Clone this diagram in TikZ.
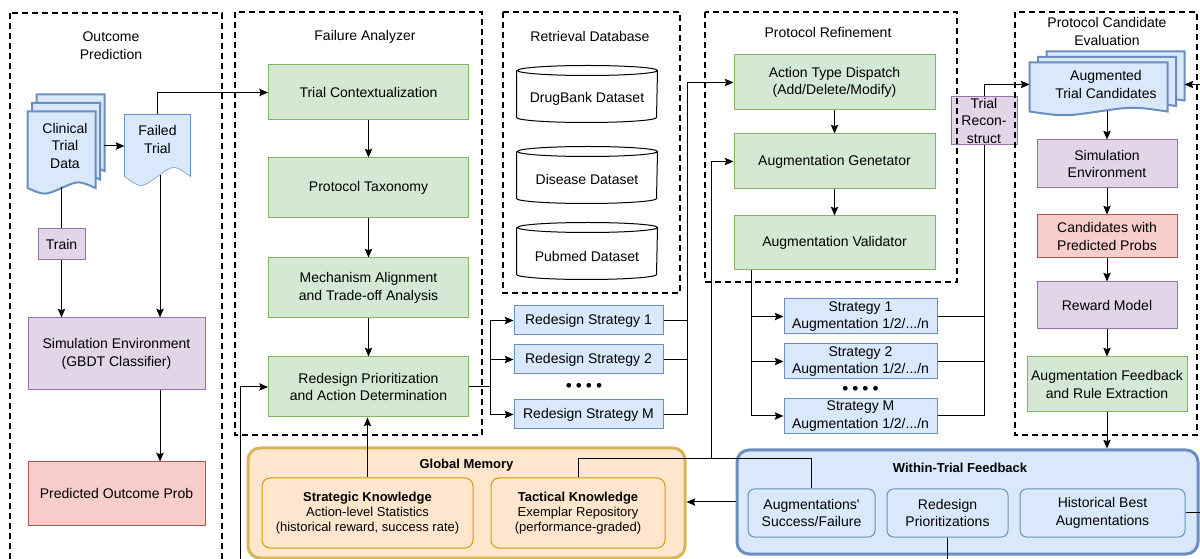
\documentclass[tikz,border=0pt]{standalone}
\usepackage{fontspec}
\setmainfont{Liberation Sans}
\usepackage{tikz}
\usetikzlibrary{arrows.meta,calc,backgrounds}

\definecolor{grnfill}{HTML}{D5E8D4}
\definecolor{grnline}{HTML}{82B366}
\definecolor{purfill}{HTML}{E1D5E7}
\definecolor{purline}{HTML}{9673A6}
\definecolor{redfill}{HTML}{F8CECC}
\definecolor{redline}{HTML}{B85450}
\definecolor{blufill}{HTML}{DAE8FC}
\definecolor{bluline}{HTML}{6C8EBF}
\definecolor{orgfill}{HTML}{FFE6CC}
\definecolor{orgline}{HTML}{D79B00}
\definecolor{gldline}{HTML}{D6B656}

\newcommand{\docpath}[2]{(#1.north west) -- (#1.north east) -- ($(#1.south east)+(0,#2)$)
  .. controls ($(#1.south)!0.5!(#1.south east)$) .. ($(#1.south)+(0,#2)$)
  .. controls ($(#1.south)!0.5!(#1.south west)+(0,2*#2)$) .. ($(#1.south west)+(0,#2)$) -- cycle}
\newcommand{\dbpath}[1]{([yshift=3.75pt]#1.north west) -- ([yshift=3.75pt]#1.south west)
  arc[start angle=180,end angle=360,x radius=52.5pt,y radius=3.75pt] -- ([yshift=3.75pt]#1.north east)
  arc[start angle=0,end angle=180,x radius=52.5pt,y radius=3.75pt]
  arc[start angle=180,end angle=360,x radius=52.5pt,y radius=3.75pt]}
\newcommand{\dotrow}{{\fontsize{13}{13}\selectfont\textbullet\hspace{3pt}\textbullet\hspace{3pt}\textbullet\hspace{3pt}\textbullet}}

\begin{document}
\begin{tikzpicture}[x=0.75pt,y=-0.75pt,line width=0.75pt,
  font=\fontsize{10.5}{13.2}\selectfont,>={Stealth[length=6.5pt,width=5.5pt,inset=1pt]},
  every node/.style={align=center,inner sep=0pt},
  wh/.style 2 args={minimum width=#1*0.75pt,minimum height=#2*0.75pt},
  grpbox/.style={draw,line width=1.5pt,dash pattern=on 4.5pt off 3pt},
  grnbox/.style={draw=grnline,fill=grnfill},
  purbox/.style={draw=purline,fill=purfill},
  redbox/.style={draw=redline,fill=redfill},
  blubox/.style={draw=bluline,fill=blufill},
  docbox/.style={draw=bluline,fill=blufill},
  memfont/.style={font=\fontsize{9.75}{11.3}\selectfont},
  memtitle/.style={font=\bfseries\fontsize{9.75}{11.3}\selectfont},
  gmbox/.style={draw=gldline,fill=orgfill,line width=2.25pt,rounded corners=9pt},
  membox/.style={draw=orgline,fill=orgfill,rounded corners=6pt,memfont},
  wtfbox/.style={draw=bluline,fill=blufill,line width=2.25pt,rounded corners=9pt},
  fbbox/.style={draw=bluline,fill=blufill,rounded corners=5pt}]
\useasboundingbox (0,0) rectangle (1200,559);

\node (opT) at (111,45.5) {Outcome\\Prediction};
\node[wh={67}{68},label={[xshift=2.6pt]center:{Clinical\\Trial\\Data}}] (ctd) at (61.5,146) {};
\node[wh={65}{49}] (failed) at (157.5,139.5) {Failed\\Trial};
\node[purbox,wh={47}{31}] (train) at (61.5,244.5) {Train};
\node[purbox,wh={177}{72}] (simenv) at (116.5,354) {Simulation Environment\\(GBDT Classifier)};
\node[redbox,wh={177}{63}] (predout) at (116.5,493.5) {Predicted Outcome Prob};

\node (faT) at (365,37) {Failure Analyzer};
\node[grnbox,wh={200}{55}] (tctx) at (368.5,92.5) {Trial Contextualization};
\node[grnbox,wh={200}{60}] (ptax) at (368.5,188) {Protocol Taxonomy};
\node[grnbox,wh={200}{60}] (mech) at (368.5,288) {Mechanism Alignment\\and Trade-off Analysis};
\node[grnbox,wh={200}{60}] (rprio) at (368.5,387) {Redesign Prioritization\\and Action Determination};

\node (rdT) at (590,37) {Retrieval Database};
\node[wh={140}{46}] (drug) at (587,99) {DrugBank Dataset};
\node[wh={140}{46}] (dis) at (587,180) {Disease Dataset};
\node[wh={140}{46}] (pub) at (587,256) {Pubmed Dataset};
\foreach \d in {drug,dis,pub} \draw \dbpath{\d};

\node[blubox,wh={149}{29}] (rs1) at (588.5,320.5) {Redesign Strategy 1};
\node[blubox,wh={149}{29}] (rs2) at (588.5,359.5) {Redesign Strategy 2};
\node (rdots) at (584,387) {\dotrow};
\node[blubox,wh={149}{29}] (rsM) at (588.5,414.5) {Redesign Strategy M};

\node (prT) at (828,33) {Protocol Refinement};
\node[grnbox,wh={201}{55}] (atd) at (834.5,82.5) {Action Type Dispatch\\(Add/Delete/Modify)};
\node[grnbox,wh={201}{55}] (agen) at (834.5,161.5) {Augmentation Genetator};
\node[grnbox,wh={201}{54}] (aval) at (834.5,243) {Augmentation Validator};

\node[blubox,wh={153}{35}] (s1) at (860.5,316.5) {Strategy 1\\Augmentation 1/2/.../n};
\node[blubox,wh={153}{35}] (s2) at (860.5,361.5) {Strategy 2\\Augmentation 1/2/.../n};
\node (sdots) at (860.5,390) {\dotrow};
\node[blubox,wh={153}{35}] (sM) at (860.5,416) {Strategy M\\Augmentation 1/2/.../n};

\node (pceT) at (1107,31.5) {Protocol Candidate\\Evaluation};
\node[wh={137}{43},label={[xshift=5.6pt]center:{Augmented\\Trial Candidates}}] (augc) at (1098.5,84.5) {};
\node[purbox,wh={140}{48}] (sim2) at (1107,164) {Simulation\\Environment};
\node[redbox,wh={140}{43}] (cand) at (1107,236.5) {Candidates with\\Predicted Probs};
\node[purbox,wh={140}{47}] (rew) at (1107,305.5) {Reward Model};
\node[grnbox,wh={160}{55}] (augfb) at (1107,384.5) {Augmentation Feedback\\and Rule Extraction};

\node[gmbox,wh={437}{110}] (gm) at (466.5,503) {};
\node[memtitle] (gmT) at (466.5,465.5) {Global Memory};
\node[membox,wh={211}{70}] (stk) at (367.5,513) {\textbf{Strategic Knowledge}\\Action-level Statistics\\(historical reward, success rate)};
\node[membox,wh={174}{70}] (ttk) at (578,513) {\textbf{Tactical Knowledge}\\Exemplar Repository\\(performance-graded)};

\node[wtfbox,wh={461}{104}] (wtf) at (967.5,502) {};
\node[memtitle] (wtfT) at (960,468) {Within-Trial Feedback};
\node[fbbox,wh={127}{48}] (asf) at (811.5,513) {Augmentations\textquotesingle\\Success/Failure};
\node[fbbox,wh={121}{48}] (rpz) at (947.5,513) {Redesign\\Prioritizations};
\node[fbbox,wh={165}{48}] (hist) at (1102.5,513) {Historical Best\\Augmentations};

\begin{scope}[on background layer]
\foreach \k in {2,1} \draw[docbox,line width=1.5pt,transform canvas={shift={(4.5*\k,-8.5*\k)}}] \docpath{ctd}{7.5};
\draw[docbox,line width=1.5pt] \docpath{ctd}{7.5};
\draw[docbox] \docpath{failed}{12};
\foreach \k in {2,1} \draw[docbox,line width=1.5pt,transform canvas={shift={(8.5*\k,-5.5*\k)}}] \docpath{augc}{5};
\draw[docbox,line width=1.5pt] \docpath{augc}{5};
\end{scope}

\coordinate (ctdB) at ($(ctd.south)+(0,7)$);
\coordinate (failB) at ($(failed.south)+(2.5,11)$);
\draw[->] ($(ctd.east)+(8,0)$) -- (ctd.east -| failed.west);
\draw (ctdB) -- (train.north);
\draw[->] (train.south) -- (simenv.north -| train.south);
\draw[->] (failB) -- (failB |- simenv.north);
\draw[->] (failed.north) |- (tctx.west);
\draw[->] (simenv.south -| failB) -- (predout.north -| failB);

\draw[->] (tctx.south) -- (ptax.north);
\draw[->] (ptax.south) -- (mech.north);
\draw[->] (mech.south) -- (rprio.north);
\draw[->] (stk.north) -- (stk.north |- rprio.south);
\foreach \s in {rs1,rs2,rsM} \draw[->] (rprio.east) -- ++(21.5,0) |- (\s.west);

\coordinate (jR) at (687,82.5);
\foreach \s in {rs1,rs2,rsM} \draw (\s.east) -| (jR);
\draw[->] (jR) -- (atd.west);
\draw[->] (atd.south) -- (agen.north);
\draw[->] (agen.south) -- (aval.north);

\node[purbox,wh={66}{48}] (trec) at (984,121) {Trial\\Recon-\\struct};
\coordinate (avalB) at ($(aval.south west)+(18,0)$);
\foreach \s in {s1,s2,sM} \draw[->] (avalB) |- (\s.west);
\foreach \s in {s1,s2,sM} \draw (\s.east) -| (trec.south);
\draw[->] (trec.north) |- (augc.west);

\coordinate (augcB) at ($(augc.south)+(8.5,5)$);
\draw[->] (augcB) -- (sim2.north);
\draw[->] (sim2.south) -- (cand.north);
\draw[->] (cand.south) -- (rew.north);
\draw[->] (rew.south) -- (augfb.north);
\draw[->] (augfb.south) -- (wtf.north -| augfb.south);

\draw[->] (wtf.west) -- (wtf.west -| gm.east);
\coordinate (jG) at (711,459);
\draw[->] (ttk.north) |- (jG) |- (agen.west);
\draw (asf.north) |- (jG);
\draw[->] (hist.east) -- ++(22,0) |- ($(augc.east)+(17,0)$);
\draw[->] (rpz.south) -- ++(0,40) -| ($(rprio.west)+(-28,0)$) -- (rprio.west);

\draw[grpbox] (10,13) rectangle (222,600);
\draw[grpbox] (235,12) rectangle (482,435);
\draw[grpbox] (503,12) rectangle (680,293);
\draw[grpbox] (705,12) rectangle (957,282);
\draw[grpbox] (1015,12) rectangle (1197,435);
\end{tikzpicture}
\end{document}
